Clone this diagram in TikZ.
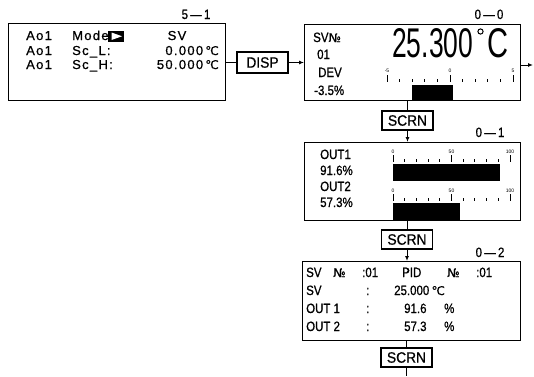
\documentclass[tikz,border=0pt]{standalone}
\usepackage{fontspec}
\setmainfont{Liberation Sans}
\newfontfamily\symf[FakeBold=0.6]{DejaVu Sans}
\newfontfamily\cond[FakeStretch=0.85,FakeBold=0.8]{Liberation Sans}
\newfontfamily\keyf[FakeStretch=0.92,FakeBold=0.8]{Liberation Sans}
\newfontfamily\lcd[LetterSpace=10,FakeBold=0.8]{Liberation Sans}
\usetikzlibrary{arrows.meta}
\newcommand\degC{{\symf\fontsize{12}{12}\selectfont ℃}}
\newcommand\numero{{\symf\fontsize{12}{12}\selectfont №}}
\begin{document}
\begin{tikzpicture}[x=1pt,y=-1pt,
  panel/.style={draw, line width=1.2pt, inner sep=0pt, anchor=north west},
  keybox/.style={draw, line width=1.1pt, inner sep=0pt, minimum width=51pt, minimum height=20pt,
    font=\keyf\fontsize{15}{15}\selectfont},
  txt/.style={anchor=base west, inner sep=0pt, font=\cond\fontsize{13.5}{13.5}\selectfont},
  txtc/.style={txt, anchor=base},
  txte/.style={txt, anchor=base east},
  ltxt/.style={anchor=base west, inner sep=0pt, font=\lcd\fontsize{13}{13}\selectfont},
  ltxte/.style={ltxt, anchor=base east},
  ltxtc/.style={ltxt, anchor=base},
  lbl/.style={anchor=base, inner sep=0pt, font=\cond\fontsize{13.5}{13.5}\selectfont},
  tiny/.style={anchor=base, inner sep=0pt, font=\fontsize{5}{5}\selectfont},
  bigf/.style={anchor=base west, inner sep=0pt, font=\fontsize{39}{39}\selectfont},
  conn/.style={line width=1pt},
  arr/.style={conn, -{Latex[length=5pt,width=4pt]}},
  tick/.style={line width=0.9pt}]
\useasboundingbox (0,0) rectangle (534,376);

% ---------- panel 5-1 ----------
\node[panel, minimum width=217pt, minimum height=77pt] (p51) at (8,23) {};
\node[lbl] (l51) at (196,19) {5\,—\,1};
\node[ltxt] (a1) at (26,40) {Ao1};
\node[ltxt] (a2) at (26,55) {Ao1};
\node[ltxt] (a3) at (26,69) {Ao1};
\node[ltxt] (mode) at (72,40) {Mode};
\fill (108,30.5) rectangle (124,42);
\fill[white] (111.5,32.5) -- (122,36.25) -- (111.5,40) -- cycle;
\node[ltxtc] (sv51) at (177,40) {SV};
\node[ltxt] (scl) at (72,55) {Sc\_L:};
\node[ltxt] (sch) at (72,69) {Sc\_H:};
\node[ltxte] (vl) at (219,55) {0.000\,\degC};
\node[ltxte] (vh) at (219,69) {50.000\,\degC};

% ---------- DISP ----------
\node[keybox, minimum height=21pt] (disp) at (262.5,62.5) {DISP};

% ---------- panel 0-0 ----------
\node[panel, minimum width=216pt, minimum height=76pt] (p00) at (304,24) {};
\node[lbl] (l00) at (489,19) {0\,—\,0};
\node[txt] (svno) at (313,42) {SV\numero};
\node[txt] (n01) at (317,59) {01};
\node[txt] (dev) at (318,77) {DEV};
\node[txt] (dv) at (314,95) {-3.5\%};
\node[bigf] (big) at (392,57) {\resizebox{81pt}{29pt}{25.300}};
\node[bigf] (bigc) at (487,57) {\resizebox{21pt}{29pt}{C}};
\draw[line width=1pt] (480.5,31.5) circle (2.6);
\foreach \k in {0,...,10} {
  \pgfmathsetmacro\xx{387+12.6*\k}
  \draw[tick] (\xx,79) -- (\xx,82);
}
\foreach \k/\l in {0/-5,5/0,10/5} {
  \pgfmathsetmacro\xx{387+12.6*\k}
  \draw[tick] (\xx,75) -- (\xx,82);
  \node[tiny] at (\xx,72) {\l};
}
\fill (412,85) rectangle (453,100);
\coordinate (outR) at (533,65);

% ---------- SCRN 1 ----------
\node[keybox, minimum height=19pt] (scrn1) at (407.5,120.5) {SCRN};

% ---------- panel 0-1 ----------
\node[panel, minimum width=216pt, minimum height=78pt] (p01) at (304,142) {};
\node[lbl] (l01) at (490,137) {0\,—\,1};
\node[txt] (o1) at (320,159) {OUT1};
\node[txt] (o1v) at (320,175) {91.6\%};
\node[txt] (o2) at (320,191) {OUT2};
\node[txt] (o2v) at (320,207) {57.3\%};
\foreach \yb in {0,39} {
  \foreach \k in {0,...,10} {
    \pgfmathsetmacro\xx{393+11.7*\k}
    \draw[tick] (\xx,159+\yb) -- (\xx,162+\yb);
  }
  \foreach \k/\l in {0/0,5/50,10/100} {
    \pgfmathsetmacro\xx{393+11.7*\k}
    \draw[tick] (\xx,155+\yb) -- (\xx,162+\yb);
    \node[tiny] at (\xx,153+\yb) {\l};
  }
}
\fill (393,164) rectangle (500,181);
\fill (393,203) rectangle (460,220);

% ---------- SCRN 2 ----------
\node[keybox, minimum height=19pt] (scrn2) at (407,239.5) {SCRN};

% ---------- panel 0-2 ----------
\node[panel, minimum width=218pt, minimum height=79pt] (p02) at (302,261) {};
\node[lbl] (l02) at (490,257) {0\,—\,2};
\node[txt] (r1a) at (306,277) {SV};
\node[txt] (r1b) at (333,277) {\numero};
\node[txt] (r1c) at (362,277) {:01};
\node[txt] (r1d) at (402,277) {PID};
\node[txt] (r1e) at (447,277) {\numero};
\node[txt] (r1f) at (476,277) {:01};
\node[txt] (r2a) at (306,295) {SV};
\node[txt] (r2b) at (366,295) {:};
\node[txt] (r2c) at (394,295) {25.000\,\degC};
\node[txt] (r3a) at (306,313) {OUT 1};
\node[txt] (r3b) at (366,313) {:};
\node[txt] (r3c) at (404,313) {91.6};
\node[txt] (r3d) at (444,313) {\%};
\node[txt] (r4a) at (306,331) {OUT 2};
\node[txt] (r4b) at (366,331) {:};
\node[txt] (r4c) at (404,331) {57.3};
\node[txt] (r4d) at (444,331) {\%};

% ---------- SCRN 3 ----------
\node[keybox, minimum height=19pt] (scrn3) at (406.5,357.5) {SCRN};
\coordinate (bot) at (406.5,376);

% ---------- connectors ----------
\draw[conn] (p51.east |- disp.west) -- (disp.west);
\draw[arr] (disp.east) -- (disp.east -| p00.west);
\draw[arr] (p00.east |- outR) -- (outR);
\draw[conn] (scrn1.north |- p00.south) -- (scrn1.north);
\draw[arr] (scrn1.south) -- (scrn1.south |- p01.north);
\draw[conn] (scrn2.north |- p01.south) -- (scrn2.north);
\draw[arr] (scrn2.south) -- (scrn2.south |- p02.north);
\draw[conn] (scrn3.north |- p02.south) -- (scrn3.north);
\draw[conn] (scrn3.south) -- (bot);
\end{tikzpicture}
\end{document}
